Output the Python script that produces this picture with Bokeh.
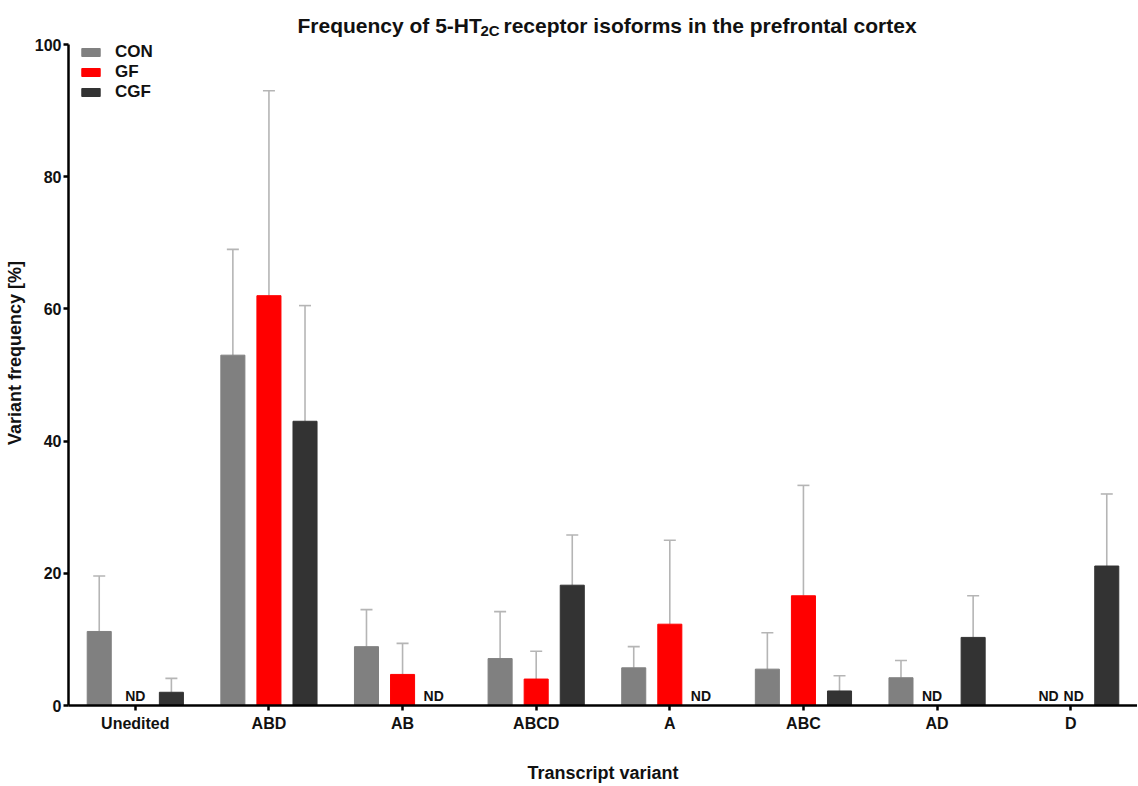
from bokeh.plotting import figure
from bokeh.models import (ColumnDataSource, FactorRange, Whisker, TeeHead, Legend,
                          LegendItem, Label, Range1d)
from bokeh.transform import dodge
from bokeh.core.properties import value
from bokeh.embed import file_html
from bokeh.resources import INLINE

# ---- data ----
categories = ["Unedited", "ABD", "AB", "ABCD", "A", "ABC", "AD", "D"]
series_names = ["CON", "GF", "CGF"]
con_mean = [11.2, 53.0, 8.9, 7.1, 5.7, 5.5, 4.2, None]
con_upper = [19.6, 69.0, 14.5, 14.2, 8.9, 11.0, 6.8, None]
gf_mean = [None, 62.0, 4.7, 4.0, 12.3, 16.6, None, None]
gf_upper = [None, 93.0, 9.4, 8.2, 25.0, 33.3, None, None]
cgf_mean = [2.0, 43.0, None, 18.2, None, 2.2, 10.3, 21.1]
cgf_upper = [4.1, 60.5, None, 25.8, None, 4.5, 16.6, 32.0]
nd_label = "ND"
y_ticks = [0, 20, 40, 60, 80, 100]
y_max = 100

# ---- style ----
colors = {"CON": "#808080", "GF": "#ff0000", "CGF": "#333333"}
offsets = {"CON": -0.27, "GF": 0.0, "CGF": 0.27}
bar_w = 0.18
err_color = "#b5b5b5"
FONT = "Liberation Sans"
FH = 705          # frame height incl. title band
TOP_BAND = 44     # px above the 100 line used for title / legend

p = figure(x_range=FactorRange(*categories, range_padding=0),
           y_range=Range1d(0, y_max * FH / (FH - TOP_BAND)),
           frame_width=1069, frame_height=FH, output_backend="svg", toolbar_location=None,
           min_border_left=68, min_border_right=0, min_border_top=0,
           min_border_bottom=80)
p.x_range.range_padding = 0
p.xgrid.grid_line_color = None
p.ygrid.grid_line_color = None
p.outline_line_color = None
p.background_fill_color = "white"
p.border_fill_color = "white"

series = {"CON": (con_mean, con_upper), "GF": (gf_mean, gf_upper), "CGF": (cgf_mean, cgf_upper)}
legend_items = []
nd_x, nd_s = [], []
for name in series_names:
    mean, upper = series[name]
    xs = [c for c, m in zip(categories, mean) if m is not None]
    ms = [m for m in mean if m is not None]
    us = [u for u in upper if u is not None]
    for c, m in zip(categories, mean):
        if m is None:
            nd_x.append(c)
            nd_s.append(name)
    src = ColumnDataSource(dict(x=xs, top=ms, upper=us))
    w = Whisker(source=src, base=dodge("x", offsets[name], range=p.x_range),
                lower="top", upper="upper", dimension="height",
                line_color=err_color, line_width=1.6,
                lower_head=None,
                upper_head=TeeHead(size=12, line_color=err_color, line_width=1.6))
    p.add_layout(w)
    r = p.vbar(x=dodge("x", offsets[name], range=p.x_range), top="top", width=bar_w,
               source=src, fill_color=colors[name], line_color=colors[name], line_width=1)
    legend_items.append(LegendItem(label=value(name), renderers=[r]))

# ND labels (pixel nudges so the labels sit as in the original)
nd_nudge = {"CON": 0, "GF": 0, "CGF": -5}
nd_special = {("D", "CON"): 14, ("D", "GF"): 3, ("AD", "GF"): -5}
nd_src = ColumnDataSource(dict(
    xd=[categories.index(c) + 0.5 + offsets[s] for c, s in zip(nd_x, nd_s)],
    xo=[nd_special.get((c, s), nd_nudge[s]) for c, s in zip(nd_x, nd_s)],
    t=[nd_label] * len(nd_x)))
p.text(x="xd", y=0, text="t", source=nd_src, x_offset="xo", y_offset=-2,
       text_align="center", text_baseline="bottom", text_font=value(FONT),
       text_font_style="bold", text_font_size="14px", text_color="#111111")

legend = Legend(items=legend_items, location=(11, FH - 44 - 58), orientation="vertical",
                label_text_font=FONT, label_text_font_style="bold",
                label_text_font_size="17px", label_text_color="#111111",
                glyph_width=23, glyph_height=10, label_standoff=13, spacing=0,
                padding=0, margin=0, border_line_color=None,
                background_fill_alpha=0)
p.add_layout(legend)

# axes
for ax in (p.xaxis[0], p.yaxis[0]):
    ax.axis_line_width = 2.5
    ax.axis_line_color = "black"
    ax.major_tick_line_width = 2.5
    ax.major_tick_line_color = "black"
    ax.major_tick_in = 0
    ax.minor_tick_line_color = None
    ax.major_label_text_font = FONT
    ax.major_label_text_font_style = "bold"
    ax.major_label_text_font_size = "16px"
    ax.major_label_text_color = "#111111"
    ax.axis_label_text_font = FONT
    ax.axis_label_text_font_style = "bold"
    ax.axis_label_text_font_size = "18px"
    ax.axis_label_text_color = "#111111"
p.yaxis.bounds = (0, y_max)
p.xaxis.major_tick_out = 5
p.yaxis.major_tick_out = 5
p.yaxis.ticker = y_ticks
p.xaxis.axis_label = "Transcript variant"
p.yaxis.axis_label = "Variant frequency [%]"
p.xaxis.axis_label_standoff = 28
p.yaxis.axis_label_standoff = 7
p.xaxis.major_label_standoff = 4
p.yaxis.major_label_standoff = 2

# title with subscript (screen units relative to the plot frame)
title_parts = [("Frequency of 5-HT", 229, FH - 25, "21px"),
               ("2C", 412, FH - 30, "15px"),
               ("receptor isoforms in the prefrontal cortex", 435, FH - 25, "21px")]
for txt, tx, ty, fs in title_parts:
    p.add_layout(Label(x=tx, y=ty, x_units="screen", y_units="screen", text=txt,
                       text_font=FONT, text_font_style="bold", text_font_size=fs,
                       text_color="#111111", text_align="left",
                       text_baseline="alphabetic"))

open("out.html", "w").write(file_html(p, INLINE))
